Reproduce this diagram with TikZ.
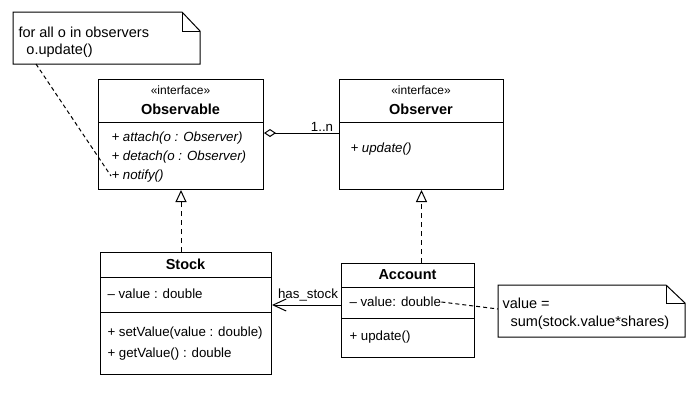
\documentclass[tikz,border=0pt]{standalone}
\usepackage{fontspec}
\setmainfont{Liberation Sans}
\usetikzlibrary{arrows.meta}

\begin{document}
\begin{tikzpicture}[x=1pt, y=-1pt, line width=1pt,
        class/.style={draw, rectangle, anchor=north west, inner sep=0},
        txt/.style={anchor=west, inner sep=0, font=\fontsize{13.3}{15}\selectfont},
        ops/.style={txt, font=\fontsize{13.3}{15}\selectfont\itshape},
        lbl/.style={inner sep=0, font=\fontsize{13.3}{15}\selectfont},
        title/.style={inner sep=0, font=\fontsize{14.5}{17}\selectfont\bfseries},
        stereo/.style={inner sep=0, font=\fontsize{12}{14}\selectfont},
        notetxt/.style={anchor=west, inner sep=0, font=\fontsize{14.5}{17}\selectfont},
        realize/.style={dash pattern=on 5pt off 4pt, -{Triangle[open, length=12pt, width=11pt]}},
        notelink/.style={dash pattern=on 4pt off 3pt}]
    \useasboundingbox (0, 0) rectangle (697, 413);

    % classes
    \node[class, minimum width=165, minimum height=110] (observable) at (98, 79) {};
    \node[class, minimum width=164, minimum height=110] (observer) at (339, 79) {};
    \node[class, minimum width=171, minimum height=122] (stock) at (100, 252) {};
    \node[class, minimum width=133, minimum height=94] (account) at (341, 263) {};

    \draw ([yshift=-43]observable.north west) -- ([yshift=-43]observable.north east);
    \draw ([yshift=-43]observer.north west) -- ([yshift=-43]observer.north east);
    \draw ([yshift=-25]stock.north west) -- ([yshift=-25]stock.north east);
    \draw ([yshift=-60]stock.north west) -- ([yshift=-60]stock.north east);
    \draw ([yshift=-24]account.north west) -- ([yshift=-24]account.north east);
    \draw ([yshift=-55]account.north west) -- ([yshift=-55]account.north east);

    \node[stereo] (obsstereo) at (180.5, 90) {«interface»};
    \node[title] (obstitle) at (180.5, 109) {Observable};
    \node[ops] (attach) at (111, 138) {+ attach(o : Observer)};
    \node[ops] (detach) at (111, 157) {+ detach(o : Observer)};
    \node[ops] (notify) at (111, 176) {+ notify()};

    \node[stereo] (obvstereo) at (421, 90) {«interface»};
    \node[title] (obvtitle) at (421, 109) {Observer};
    \node[ops] (update) at (350, 149) {+ update()};

    \node[title] (stocktitle) at (185.5, 264) {Stock};
    \node[txt] (stockvalue) at (107, 294) {– value : double};
    \node[txt] (setvalue) at (107, 333) {+ setValue(value : double)};
    \node[txt] (getvalue) at (107, 354) {+ getValue() : double};

    \node[title] (acctitle) at (407.5, 275) {Account};
    \node[txt] (accvalue) at (349, 302) {– value: double};
    \node[txt] (accupdate) at (349, 337) {+ update()};

    % relations
    \draw[realize] (observable.south |- stock.north) -- (observable.south);
    \draw[realize] (observer.south |- account.north) -- (observer.south);
    \draw[{Diamond[open, length=12pt, width=8pt]}-] ([yshift=-54]observable.north east) -- ([yshift=-54]observer.north west);
    \node[lbl] (mult) at (322, 127) {1..n};
    \draw[-{Straight Barb[length=13pt, width=12pt]}] ([yshift=-42]account.north west) -- ([yshift=-53]stock.north east);
    \node[lbl] (hasstock) at (308, 295) {has\_stock};

    % notes
    \draw (13, 12) -- (182, 12) -- (200, 31) -- (200, 64) -- (13, 64) -- cycle;
    \draw (182, 12) |- (200, 31);
    \node[notetxt] (note1a) at (18, 32) {for all o in observers};
    \node[notetxt] (note1b) at (26, 51) {o.update()};
    \coordinate (n1) at (36, 64);
    \draw[notelink] (n1) -- (notify.west);

    \draw (498, 285) -- (666, 285) -- (685, 303) -- (685, 337) -- (498, 337) -- cycle;
    \draw (666, 285) |- (685, 303);
    \node[notetxt] (note2a) at (502, 303) {value =};
    \node[notetxt] (note2b) at (510, 323) {sum(stock.value*shares)};
    \coordinate (n2) at (498, 309);
    \draw[notelink] (accvalue.east) -- (n2);
\end{tikzpicture}
\end{document}
